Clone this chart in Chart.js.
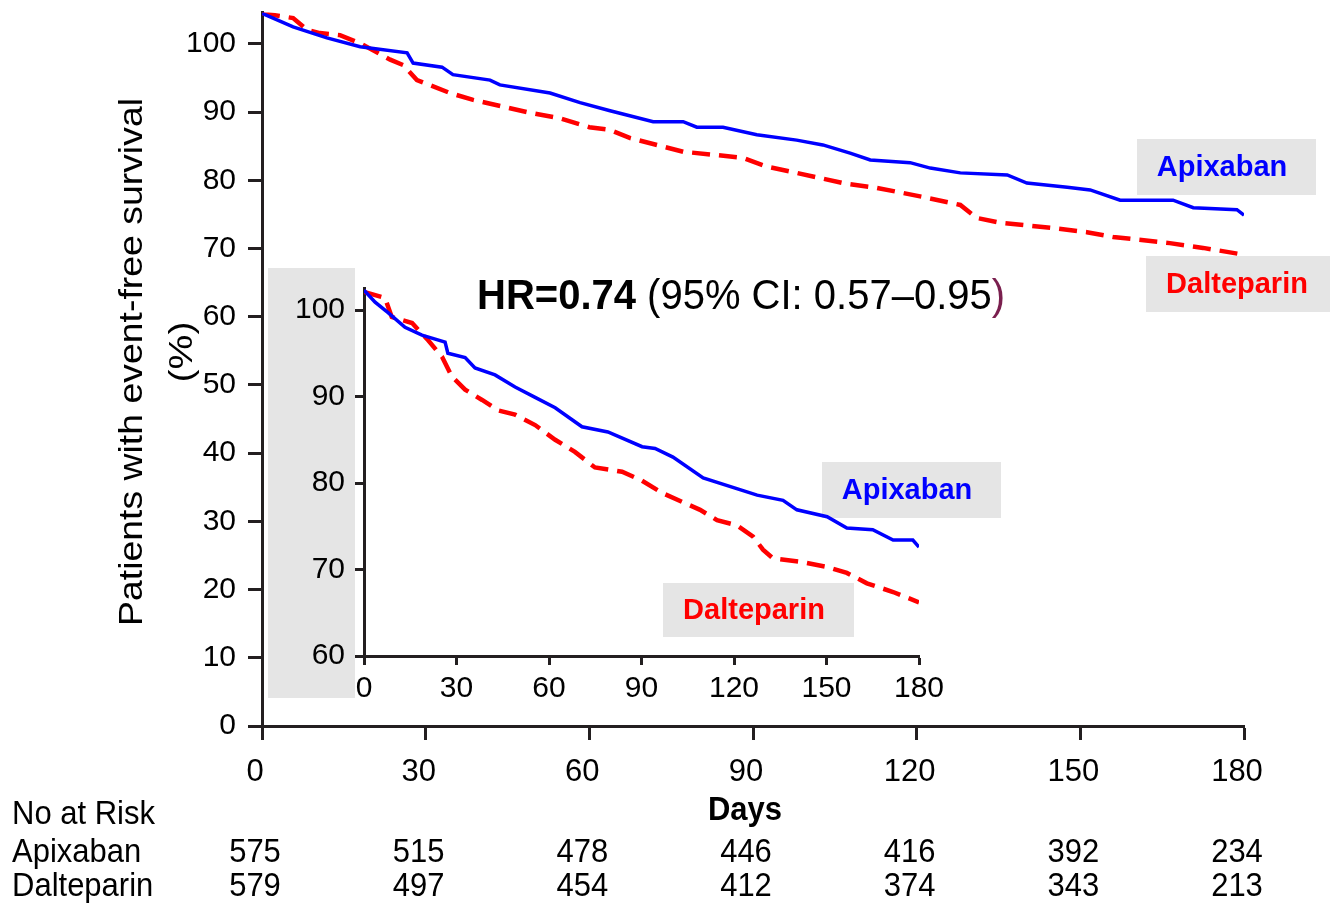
<!DOCTYPE html>
<html>
<head>
<meta charset="utf-8">
<script src="https://cdn.jsdelivr.net/npm/chart.js@4.4.1/dist/chart.umd.min.js"></script>
<style>
  html, body { margin: 0; padding: 0; background: #fff; }
  #wrap { position: relative; width: 1330px; height: 906px; }
  #main { position: absolute; left: 0; top: 0; }
  #inset { position: absolute; left: 268px; top: 268px; }
</style>
</head>
<body>
<div id="wrap">
  <canvas id="main" width="1330" height="906"></canvas>
  <canvas id="inset" width="750" height="440"></canvas>
</div>
<script>
// x ticks / number at risk
const days = [0, 30, 60, 90, 120, 150, 180];
const apixabanAtRisk = [575, 515, 478, 446, 416, 392, 234];
const dalteparinAtRisk = [579, 497, 454, 412, 374, 343, 213];
const mainYTicks = [0, 10, 20, 30, 40, 50, 60, 70, 80, 90, 100];
const insetYTicks = [60, 70, 80, 90, 100];

// full-scale curves (0-100%)
const apixabanDays = [0, 5.7, 11.9, 18, 26.6, 27.7, 33, 35, 41.8, 43.6, 52.8, 58.3, 63.8, 71.7, 77.2, 79.7, 84.5, 90.7, 98, 102.8, 107.8, 111.5, 118.8, 122.5, 128, 136.6, 140.2, 147.6, 151.8, 157.3, 167, 170.7, 178.7, 180];
const apixabanMain = [104.5, 102.5, 100.9, 99.6, 98.7, 97.2, 96.6, 95.5, 94.7, 94.0, 92.8, 91.4, 90.2, 88.6, 88.6, 87.8, 87.8, 86.7, 85.9, 85.2, 84.0, 83.0, 82.6, 81.8, 81.1, 80.8, 79.6, 79.0, 78.6, 77.1, 77.1, 76.0, 75.7, 74.9];
const dalteparinDays = [0, 5.7, 8.2, 10.6, 14.3, 18, 23.5, 25.9, 28.4, 34.5, 38.7, 48.6, 54.6, 60, 63.8, 67.5, 77.2, 83.4, 88.2, 92.6, 98, 106.5, 112.7, 121, 128, 131, 135.3, 145, 151.2, 156, 166.4, 172.5, 180];
const dalteparinMain = [104.5, 103.8, 102.1, 101.6, 101.3, 100.1, 97.7, 96.9, 94.7, 92.8, 91.8, 90.0, 89.1, 87.8, 87.4, 86.2, 84.2, 83.7, 83.3, 82.0, 81.1, 79.6, 78.9, 77.6, 76.4, 74.5, 73.8, 73.0, 72.4, 71.7, 70.8, 70.1, 69.1];

// zoomed curves (60-100%)
const apixabanInsetDays = [0, 3.6, 7.8, 13.3, 18.8, 26.3, 27.2, 32.8, 36, 42.5, 49, 55.5, 62, 70.7, 79.1, 90.2, 94.4, 100.2, 110, 127.5, 135.9, 140.4, 150.2, 156.6, 165, 171.6, 178, 180];
const apixabanInset = [102.3, 100.9, 99.7, 98.0, 97.1, 96.3, 95.0, 94.5, 93.3, 92.5, 91.1, 89.9, 88.7, 86.5, 85.9, 84.2, 84.0, 83.0, 80.6, 78.6, 78.0, 76.9, 76.1, 74.8, 74.6, 73.4, 73.4, 72.6];
const dalteparinInsetDays = [0, 6.8, 9, 15.6, 20.8, 25.3, 28.5, 32.8, 38.3, 43.5, 49, 55.5, 62, 68.4, 74.9, 83.7, 90, 97, 109, 114.5, 121, 126.2, 129.4, 132.6, 141.4, 150.2, 156.6, 163.1, 171.6, 180];
const dalteparinInset = [102.1, 101.4, 99.2, 98.5, 96.5, 94.6, 92.3, 90.8, 89.6, 88.4, 87.9, 86.7, 85.0, 83.6, 81.8, 81.3, 80.3, 78.8, 76.9, 75.7, 75.1, 73.8, 72.3, 71.3, 70.9, 70.3, 69.6, 68.4, 67.4, 66.2];

const FONT = "'Liberation Sans', Arial, sans-serif";
const AXIS = '#231f20';
const BLUE = '#0000ff';
const RED = '#ff0000';
const BOX = '#e5e5e5';

Chart.defaults.font.family = FONT;
Chart.defaults.color = '#000';

const pairs = (xs, ys) => xs.map((x, i) => ({ x: x, y: ys[i] }));

function text(ctx, str, x, y, o) {
  ctx.save();
  ctx.font = o.font;
  ctx.fillStyle = o.color || '#000';
  ctx.textAlign = o.align || 'left';
  ctx.textBaseline = 'middle';
  ctx.translate(x, y);
  if (o.rotate) ctx.rotate(o.rotate);
  ctx.scale(o.sx || 1, o.sy || 1);
  ctx.fillText(str, 0, 0);
  const w = ctx.measureText(str).width * (o.sx || 1);
  ctx.restore();
  return w;
}

function box(ctx, x, y, w, h) {
  ctx.save();
  ctx.fillStyle = BOX;
  ctx.fillRect(x, y, w, h);
  ctx.restore();
}

function lineSets(a, b) {
  return [
    { label: 'Apixaban', data: a, borderColor: BLUE, borderWidth: 3.5, pointRadius: 0, tension: 0, fill: false },
    { label: 'Dalteparin', data: b, borderColor: RED, borderWidth: 4.5, borderDash: [18, 9], pointRadius: 0, tension: 0, fill: false }
  ];
}

function axis(min, max, ticks, opts) {
  return {
    type: 'linear',
    min: min,
    max: max,
    afterBuildTicks: s => { s.ticks = ticks.map(v => ({ value: v })); },
    afterFit: s => {
      if (opts.width) s.width = opts.width;
      if (opts.height) s.height = opts.height;
      s.paddingTop = 0; s.paddingBottom = 0; s.paddingLeft = 0; s.paddingRight = 0;
    },
    grid: { drawOnChartArea: false, drawTicks: true, tickLength: opts.tick, tickWidth: 3, tickColor: AXIS },
    border: { display: true, width: 3, color: AXIS },
    ticks: { font: { size: opts.size }, color: '#000', padding: opts.pad, labelOffset: opts.offset || 0, maxRotation: 0, autoSkip: false }
  };
}

// annotations for the full-scale chart
const mainDecor = {
  id: 'mainDecor',
  beforeDatasetsDraw(chart) {
    const ctx = chart.ctx;
    box(ctx, 1137, 139, 179, 56);
    box(ctx, 1146, 256, 184, 56);
  },
  afterDraw(chart) {
    const ctx = chart.ctx;
    const xs = chart.scales.x;
    text(ctx, 'Apixaban', 1222, 168, { font: 'bold 29px ' + FONT, color: BLUE, align: 'center' });
    text(ctx, 'Dalteparin', 1237, 285, { font: 'bold 29px ' + FONT, color: RED, align: 'center' });

    // hazard ratio
    let x = 477;
    x += text(ctx, 'HR=0.74', x, 297, { font: 'bold 40px ' + FONT, sy: 1.08 });
    x += text(ctx, ' (95% CI: 0.57\u20130.95', x, 297, { font: '40px ' + FONT, sy: 1.08 });
    text(ctx, ')', x, 297, { font: '40px ' + FONT, color: '#7a1f4e', sy: 1.08 });

    // y axis title
    text(ctx, 'Patients with event-free survival', 133, 362, { font: '34px ' + FONT, align: 'center', rotate: -Math.PI / 2, sx: 1.1 });
    text(ctx, '(%)', 183, 352, { font: '34px ' + FONT, align: 'center', rotate: -Math.PI / 2, sx: 1.15 });

    text(ctx, 'Days', 745, 811, { font: 'bold 31px ' + FONT, align: 'center', sy: 1.1 });

    // number at risk
    text(ctx, 'No at Risk', 12, 815, { font: '31px ' + FONT, sy: 1.1 });
    text(ctx, 'Apixaban', 12, 853, { font: '31px ' + FONT, sy: 1.1 });
    text(ctx, 'Dalteparin', 12, 887, { font: '31px ' + FONT, sy: 1.1 });
    days.forEach((d, i) => {
      const px = xs.getPixelForValue(d) - 7;
      text(ctx, String(apixabanAtRisk[i]), px, 853, { font: '31px ' + FONT, align: 'center', sy: 1.1 });
      text(ctx, String(dalteparinAtRisk[i]), px, 887, { font: '31px ' + FONT, align: 'center', sy: 1.1 });
    });
  }
};

// grey panel and labels for the zoomed chart
const insetDecor = {
  id: 'insetDecor',
  beforeDraw(chart) {
    box(chart.ctx, 0, 0, 87, 430);
  },
  beforeDatasetsDraw(chart) {
    const ctx = chart.ctx;
    box(ctx, 554, 194, 179, 56);
    box(ctx, 395, 315, 191, 54);
    text(ctx, 'Apixaban', 639, 223, { font: 'bold 29px ' + FONT, color: BLUE, align: 'center' });
    text(ctx, 'Dalteparin', 486, 343, { font: 'bold 29px ' + FONT, color: RED, align: 'center' });
  }
};

new Chart(document.getElementById('main'), {
  type: 'line',
  data: { datasets: lineSets(pairs(apixabanDays, apixabanMain), pairs(dalteparinDays, dalteparinMain)) },
  options: {
    responsive: false,
    animation: false,
    layout: { padding: { top: 12.6, right: 86, left: 0, bottom: 0 } },
    plugins: { legend: { display: false }, tooltip: { enabled: false } },
    scales: {
      x: axis(0, 180, days, { height: 180, tick: 14, size: 31, pad: 14, offset: -7 }),
      y: axis(0, 104.6, mainYTicks, { width: 262, tick: 14, size: 30, pad: 12 })
    }
  },
  plugins: [mainDecor]
});

new Chart(document.getElementById('inset'), {
  type: 'line',
  data: { datasets: lineSets(pairs(apixabanInsetDays, apixabanInset), pairs(dalteparinInsetDays, dalteparinInset)) },
  options: {
    responsive: false,
    animation: false,
    layout: { padding: { top: 20.4, right: 99, left: 0, bottom: 0 } },
    plugins: { legend: { display: false }, tooltip: { enabled: false } },
    scales: {
      x: axis(0, 180, days, { height: 52, tick: 9, size: 30, pad: 6 }),
      y: axis(60, 102.5, insetYTicks, { width: 96, tick: 9, size: 30, pad: 10 })
    }
  },
  plugins: [insetDecor]
});
</script>
</body>
</html>
